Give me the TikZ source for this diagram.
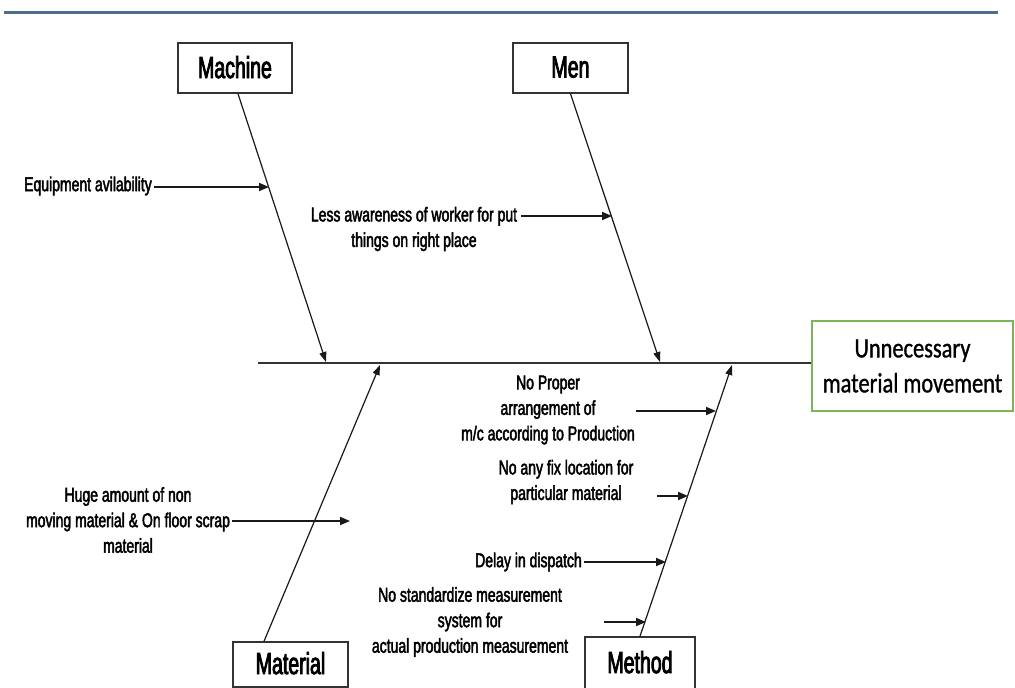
\documentclass[tikz,border=0pt]{standalone}
\usepackage{fontspec}
\usetikzlibrary{arrows.meta,calc}
\newfontfamily\narrowfont[FakeStretch=0.70,FakeBold=2.2]{Liberation Sans}
\newfontfamily\labelfont[FakeStretch=0.64,FakeBold=2.6]{Liberation Sans}
\newfontfamily\calfont[FakeStretch=0.80,FakeBold=1.0]{Carlito}
\definecolor{topblue}{HTML}{4E6C8C}
\definecolor{effgreen}{HTML}{7DB35A}
\tikzset{
  catbox/.style={draw=black!80, line width=1.5pt, fill=white, inner sep=0pt,
    font=\labelfont\fontsize{30.5}{32}\selectfont},
  bone/.style={draw=black!90, line width=1.2pt, -{Triangle[length=10pt,width=7pt]}},
  cause/.style={draw=black!90, line width=1.8pt, -{Triangle[length=10pt,width=8pt]}},
  causetxt/.style={align=center, inner sep=2pt, font=\narrowfont\fontsize{20}{25.5}\selectfont},
}
\begin{document}
\begin{tikzpicture}[x=1pt,y=-1pt]
\useasboundingbox (0,0) rectangle (1015,688);
% top rule
\coordinate (ruleL) at (4,12);
\coordinate (ruleR) at (998,12);
\draw[topblue, line width=3pt] (ruleL) -- (ruleR);

% effect
\node[draw=effgreen, line width=2.6pt, minimum width=201pt, minimum height=90pt,
  align=center, font=\calfont\fontsize{28}{35}\selectfont] (effect) at (912.5,366)
  {Unnecessary\\material movement};
\coordinate (spineL) at (258,363);
\draw[black!80, line width=2.6pt] (spineL) -- (effect.west |- spineL);

% category boxes
\node[catbox, minimum width=114pt, minimum height=50pt] (machine) at (235,68) {\raisebox{2pt}{Machine}};
\node[catbox, minimum width=115pt, minimum height=50pt] (men) at (570.5,68) {\raisebox{2pt}{Men}};
\node[catbox, minimum width=115pt, minimum height=45pt] (material) at (290.5,664.5) {\raisebox{3pt}{Material}};
\node[catbox, minimum width=110pt, minimum height=53pt] (method) at (640,663.5) {\raisebox{3pt}{Method}};

% bone tips on spine
\coordinate (machineT) at (326,362);
\coordinate (menT) at (660,362);
\coordinate (materialT) at (380,365);
\coordinate (methodT) at (732,365);
\draw[bone] ([xshift=3pt]machine.south) -- (machineT);
\draw[bone] (men.south) -- (menT);
\draw[bone] ([xshift=-26.5pt]material.north) -- (materialT);
\draw[bone] (method.north) -- (methodT);

% causes
\node[causetxt, anchor=east] (equip) at (154,186) {Equipment avilability};
\coordinate (equipT) at (269,187);
\draw[cause] (equip.east |- equipT) -- (equipT);

\node[causetxt] (less) at (414,229) {Less awareness of worker for put\\things on right place};
\coordinate (lessS) at (521,216);
\coordinate (lessT) at (612,216);
\draw[cause] (lessS) -- (lessT);

\node[causetxt] (huge) at (128,520) {Huge amount of non\\moving material \& On floor scrap\\material};
\coordinate (hugeT) at (350,521);
\draw[cause] (huge.east |- hugeT) -- (hugeT);

\node[causetxt] (proper) at (548,410) {No Proper\\arrangement of\\m/c according to Production};
\coordinate (properS) at (636,411);
\coordinate (properT) at (716,411);
\draw[cause] (properS) -- (properT);

\node[causetxt] (fix) at (566,482) {No any fix location for\\particular material};
\coordinate (fixS) at (657,496);
\coordinate (fixT) at (688,496);
\draw[cause] (fixS) -- (fixT);

\node[causetxt, anchor=east] (delay) at (584,562) {Delay in dispatch};
\coordinate (delayT) at (666,562);
\draw[cause] (delay.east |- delayT) -- (delayT);

\node[causetxt] (std) at (470,622) {No standardize measurement\\system for\\actual production measurement};
\coordinate (stdS) at (604,622);
\coordinate (stdT) at (646,622);
\draw[cause] (stdS) -- (stdT);
\end{tikzpicture}
\end{document}
